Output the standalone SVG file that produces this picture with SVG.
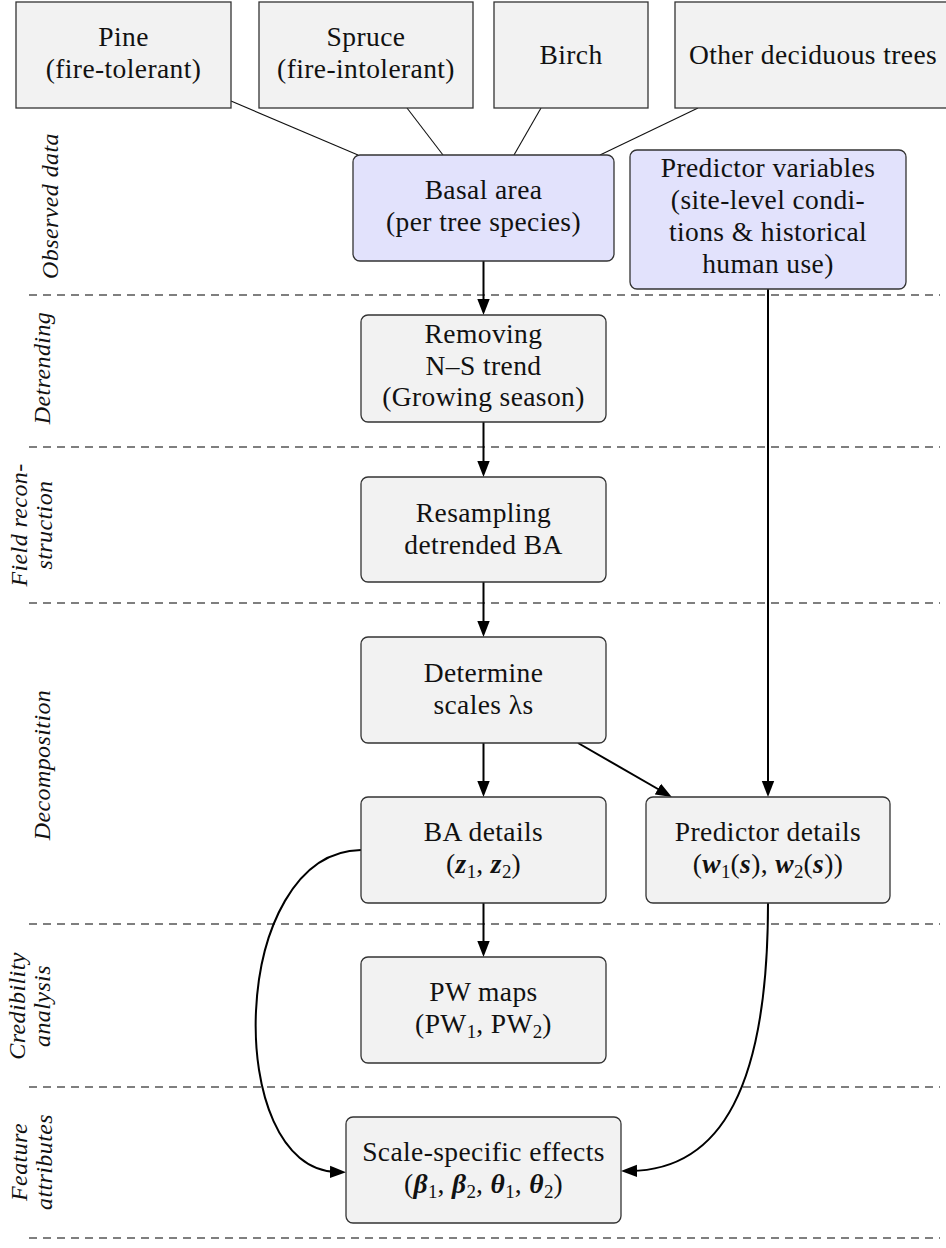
<svg xmlns="http://www.w3.org/2000/svg" width="946" height="1248" viewBox="0 0 946 1248" font-family="'Liberation Serif', 'Times New Roman', 'DejaVu Serif', serif">
<style>
  text { font-family: 'Liberation Serif', 'Times New Roman', 'DejaVu Serif', serif; fill: #111; }
  .t { font-size: 27.5px; letter-spacing: 0.4px; text-anchor: middle; }
  .lab { font-size: 24px; letter-spacing: 0.4px; font-style: italic; text-anchor: middle; }
  .src { fill: #f2f2f2; stroke: #333; stroke-width: 1.3; }
  .proc { fill: #f2f2f2; stroke: #333; stroke-width: 1.3; }
  .obs { fill: #e2e2fc; stroke: #333; stroke-width: 1.3; }
  .dash { stroke: #555; stroke-width: 1.4; stroke-dasharray: 8 6; fill: none; }
  .thin { stroke: #111; stroke-width: 1.1; fill: none; }
  .arr { stroke: #000; stroke-width: 2; fill: none; marker-end: url(#ah); }
  .bi { font-weight: bold; font-style: italic; }
  .sub { font-size: 19px; letter-spacing: 0; }
</style>
<defs>
  <marker id="ah" markerUnits="userSpaceOnUse" markerWidth="17" markerHeight="14" refX="7" refY="7" orient="auto">
    <path d="M0,0.8 L16,7 L0,13.2 Z" fill="#000"/>
  </marker>
</defs>
<rect width="946" height="1248" fill="#fff"/>

<g id="lanes">
  <line class="dash" x1="29" y1="295" x2="940" y2="295"/>
  <line class="dash" x1="29" y1="447" x2="940" y2="447"/>
  <line class="dash" x1="29" y1="603" x2="940" y2="603"/>
  <line class="dash" x1="29" y1="924" x2="940" y2="924"/>
  <line class="dash" x1="29" y1="1087" x2="940" y2="1087"/>
  <line class="dash" x1="29" y1="1238" x2="940" y2="1238"/>
  <text class="lab" transform="translate(58,206) rotate(-90)">Observed data</text>
  <text class="lab" transform="translate(50,368) rotate(-90)">Detrending</text>
  <text class="lab" transform="translate(27,525) rotate(-90)">Field recon-</text>
  <text class="lab" transform="translate(52,525) rotate(-90)">struction</text>
  <text class="lab" transform="translate(50,765) rotate(-90)">Decomposition</text>
  <text class="lab" transform="translate(25,1006) rotate(-90)">Credibility</text>
  <text class="lab" transform="translate(50,1006) rotate(-90)">analysis</text>
  <text class="lab" transform="translate(27,1162) rotate(-90)">Feature</text>
  <text class="lab" transform="translate(52,1162) rotate(-90)">attributes</text>
</g>

<g id="connectors">
  <line class="thin" x1="231" y1="101" x2="358" y2="155"/>
  <line class="thin" x1="407" y1="108" x2="443" y2="155"/>
  <line class="thin" x1="541" y1="108" x2="514" y2="155"/>
  <line class="thin" x1="698" y1="108" x2="600" y2="155"/>
  <line class="arr" x1="483.5" y1="261" x2="483.5" y2="306"/>
  <line class="arr" x1="483.5" y1="422" x2="483.5" y2="468"/>
  <line class="arr" x1="483.5" y1="582" x2="483.5" y2="628"/>
  <line class="arr" x1="483.5" y1="743" x2="483.5" y2="788"/>
  <line class="arr" x1="578" y1="743" x2="664" y2="792.5"/>
  <line class="arr" x1="768" y1="289" x2="768" y2="788"/>
  <line class="arr" x1="483.5" y1="903" x2="483.5" y2="948"/>
  <path class="arr" d="M361,850 C228,852 222,1170 337,1172"/>
  <path class="arr" d="M768,903 C768,1085 722,1170 630,1171"/>
</g>

<g id="pine">
  <rect class="src" x="16" y="2" width="215" height="106"/>
  <text class="t" x="123.5" y="46">Pine</text>
  <text class="t" x="123.5" y="78">(fire-tolerant)</text>
</g>
<g id="spruce">
  <rect class="src" x="259" y="2" width="214" height="106"/>
  <text class="t" x="366" y="46">Spruce</text>
  <text class="t" x="366" y="78">(fire-intolerant)</text>
</g>
<g id="birch">
  <rect class="src" x="494" y="2" width="154" height="106"/>
  <text class="t" x="571" y="64">Birch</text>
</g>
<g id="other">
  <rect class="src" x="675" y="2" width="290" height="106"/>
  <text class="t" x="813" y="64">Other deciduous trees</text>
</g>

<g id="basal">
  <rect class="obs" x="353" y="155" width="261" height="106" rx="7"/>
  <text class="t" x="483.5" y="199">Basal area</text>
  <text class="t" x="483.5" y="231">(per tree species)</text>
</g>
<g id="predvars">
  <rect class="obs" x="630" y="150" width="276" height="139" rx="7"/>
  <text class="t" x="768" y="177">Predictor variables</text>
  <text class="t" x="768" y="209">(site-level condi-</text>
  <text class="t" x="768" y="241">tions &amp; historical</text>
  <text class="t" x="768" y="273">human use)</text>
</g>
<g id="detrend">
  <rect class="proc" x="361" y="315" width="245" height="107" rx="7"/>
  <text class="t" x="483.5" y="343">Removing</text>
  <text class="t" x="483.5" y="375">N–S trend</text>
  <text class="t" x="483.5" y="406">(Growing season)</text>
</g>
<g id="resample">
  <rect class="proc" x="361" y="477" width="245" height="105" rx="7"/>
  <text class="t" x="483.5" y="522">Resampling</text>
  <text class="t" x="483.5" y="554">detrended BA</text>
</g>
<g id="scales">
  <rect class="proc" x="361" y="637" width="245" height="106" rx="7"/>
  <text class="t" x="483.5" y="682">Determine</text>
  <text class="t" x="483.5" y="714">scales λs</text>
</g>
<g id="badetails">
  <rect class="proc" x="361" y="797" width="245" height="106" rx="7"/>
  <text class="t" x="483.5" y="841">BA details</text>
  <text class="t" x="483.5" y="873">(<tspan class="bi">z</tspan><tspan class="sub" dy="5">1</tspan><tspan dy="-5">, </tspan><tspan class="bi">z</tspan><tspan class="sub" dy="5">2</tspan><tspan dy="-5">)</tspan></text>
</g>
<g id="preddetails">
  <rect class="proc" x="646" y="797" width="244" height="106" rx="7"/>
  <text class="t" x="768" y="841">Predictor details</text>
  <text class="t" x="768" y="873">(<tspan class="bi">w</tspan><tspan class="sub" dy="5">1</tspan><tspan dy="-5">(</tspan><tspan class="bi">s</tspan>), <tspan class="bi">w</tspan><tspan class="sub" dy="5">2</tspan><tspan dy="-5">(</tspan><tspan class="bi">s</tspan>))</text>
</g>
<g id="pwmaps">
  <rect class="proc" x="361" y="957" width="245" height="106" rx="7"/>
  <text class="t" x="483.5" y="1001">PW maps</text>
  <text class="t" x="483.5" y="1033">(PW<tspan class="sub" dy="5">1</tspan><tspan dy="-5">, PW</tspan><tspan class="sub" dy="5">2</tspan><tspan dy="-5">)</tspan></text>
</g>
<g id="effects">
  <rect class="proc" x="346" y="1117" width="275" height="106" rx="7"/>
  <text class="t" x="483.5" y="1161">Scale-specific effects</text>
  <text class="t" x="483.5" y="1193">(<tspan class="bi">β</tspan><tspan class="sub" dy="5">1</tspan><tspan dy="-5">, </tspan><tspan class="bi">β</tspan><tspan class="sub" dy="5">2</tspan><tspan dy="-5">, </tspan><tspan class="bi">θ</tspan><tspan class="sub" dy="5">1</tspan><tspan dy="-5">, </tspan><tspan class="bi">θ</tspan><tspan class="sub" dy="5">2</tspan><tspan dy="-5">)</tspan></text>
</g>
</svg>
